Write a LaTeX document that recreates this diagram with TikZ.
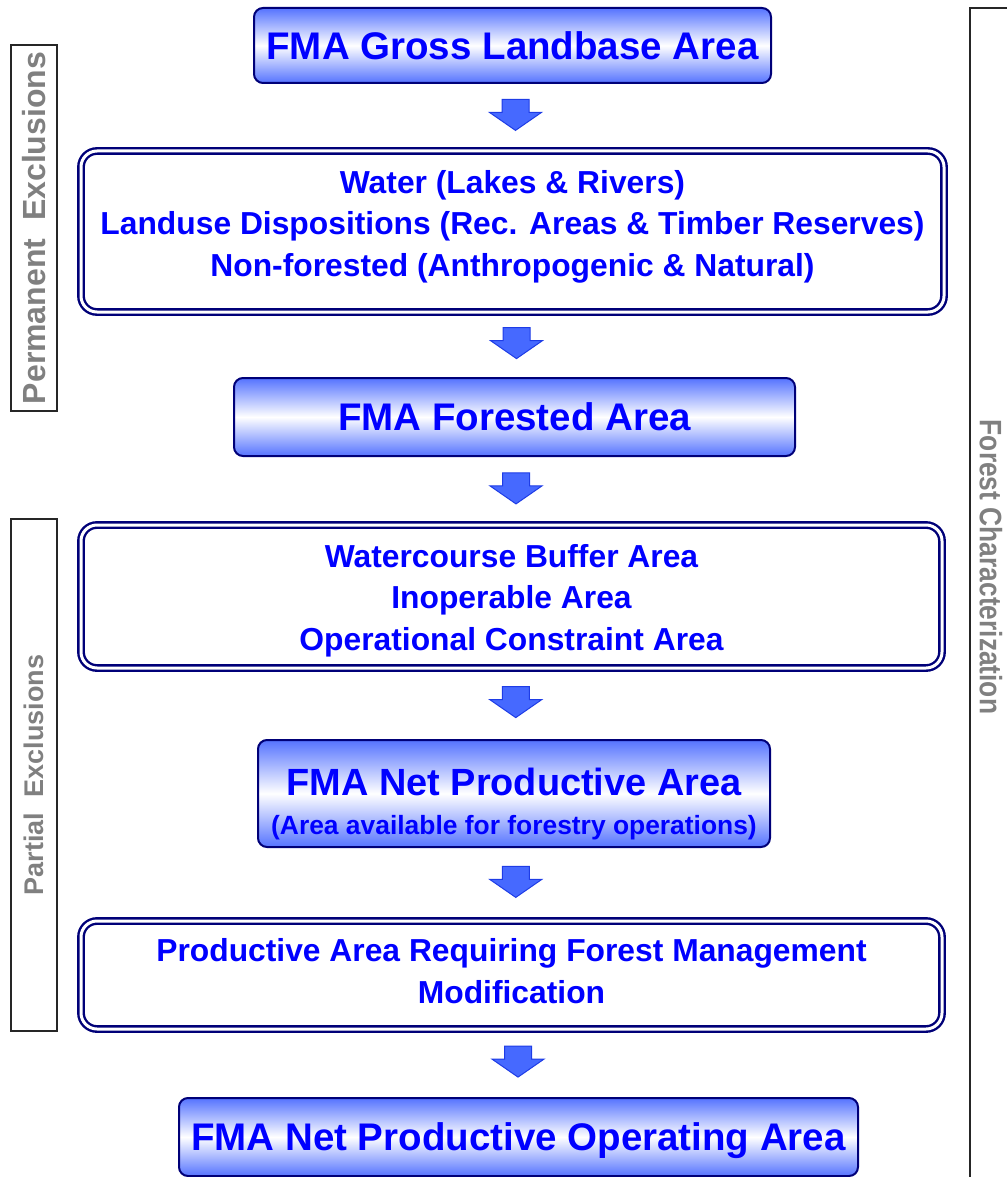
\documentclass[tikz,border=0pt]{standalone}
\usepackage{fontspec}
\setmainfont{Liberation Sans}
\newfontfamily\narrowfont{Liberation Sans}[FakeStretch=0.85]
\usetikzlibrary{calc,positioning}

\definecolor{boxblue}{RGB}{85,115,255}
\definecolor{navyline}{RGB}{0,0,120}
\definecolor{textblue}{RGB}{0,0,255}
\definecolor{arrowfill}{RGB}{70,105,255}
\definecolor{arrowline}{RGB}{30,60,230}
\definecolor{labelgray}{RGB}{128,128,128}

\tikzset{
  titlebox/.style={draw=navyline, line width=2pt, rounded corners=9pt,
    top color=boxblue, bottom color=boxblue, middle color=white,
    text=textblue, inner sep=0pt, text depth=0pt,
    font=\bfseries\fontsize{38.5}{44}\selectfont},
  listbox/.style={draw=navyline, double=white, line width=2.4pt,
    double distance=3pt, rounded corners=16pt, inner sep=0pt},
  listtext/.style={text=textblue, align=center,
    font=\bfseries\fontsize{31.8}{41.5}\selectfont},
  sidebox/.style={draw=black!85, line width=2pt, inner sep=0pt},
  sidetext/.style={text=labelgray, font=\bfseries\fontsize{32}{36}\selectfont},
  blockarrow/.pic={
    \draw[fill=arrowfill, draw=arrowline, line width=1pt, line join=miter]
      (-13.5,-15.5) -- (13.5,-15.5) -- (13.5,-2.5) -- (26,-2.5)
      -- (0,15.5) -- (-26,-2.5) -- (-13.5,-2.5) -- cycle;
  }
}

\begin{document}
\begin{tikzpicture}[x=1pt, y=-1pt]
\useasboundingbox (0,0) rectangle (1006,1177);

% --- colonna centrale ---
\node[titlebox, minimum width=517pt, minimum height=75pt] (gross) at (512.5,45.5) {FMA Gross Landbase Area};

\node[listbox, minimum width=863pt, minimum height=161pt] (perm) at (512.5,231.5) {};
\node[listtext] (permtext) at ($(perm.center)+(0,-5)$)
  {Water (Lakes \& Rivers)\\Landuse Dispositions (Rec. Areas \& Timber Reserves)\\Non-forested (Anthropogenic \& Natural)};

\node[titlebox, minimum width=561pt, minimum height=78pt] (forested) at (514.5,417) {FMA Forested Area};

\node[listbox, minimum width=861pt, minimum height=143pt] (partial) at (511.5,596.5) {};
\node[listtext] (partialtext) at ($(partial.center)+(0,4)$)
  {Watercourse Buffer Area\\Inoperable Area\\Operational Constraint Area};

\node[titlebox, minimum width=512pt, minimum height=107pt] (netprod) at (514,793.5) {};
\node[anchor=base, text=textblue, font=\bfseries\fontsize{37.9}{42}\selectfont] (netprodtitle)
  at ($(netprod.center)+(0,2)$) {FMA Net Productive Area};
\node[anchor=base, text=textblue, font=\bfseries\fontsize{26.4}{30}\selectfont] (netprodsub)
  at ($(netprod.center)+(0,40.5)$) {(Area available for forestry operations)};

\node[listbox, minimum width=861pt, minimum height=108pt] (modif) at (511.5,975) {};
\node[listtext] (modiftext) at ($(modif.center)+(0,-3.7)$)
  {Productive Area Requiring Forest Management\\Modification};

\node[titlebox, minimum width=679pt, minimum height=78pt] (operating) at (518.5,1137) {FMA Net Productive Operating Area};

% --- frecce ---
\foreach \a/\b in {gross/perm, perm/forested, forested/partial, partial/netprod, netprod/modif, modif/operating}
  \pic at ($(\a.south)!0.5!(\b.north)+(3,-2)$) {blockarrow};

% --- etichette laterali ---
\node[sidebox, sidetext, rotate=90, minimum width=366pt, minimum height=46pt] (permlbl) at (34,228)
  {Permanent\hspace{0.56em}Exclusions};
\node[sidebox, sidetext, rotate=90, minimum width=512pt, minimum height=46pt, font=\bfseries\fontsize{27}{31}\selectfont] (partlbl) at (34,775)
  {Partial\hspace{0.56em}Exclusions};

\draw[sidebox] (970,8) rectangle (1030,1200);
\node[text=labelgray, rotate=-90, font=\narrowfont\bfseries\fontsize{31}{35}\selectfont] (charlbl) at (991,567) {Forest Characterization};
\end{tikzpicture}
\end{document}
